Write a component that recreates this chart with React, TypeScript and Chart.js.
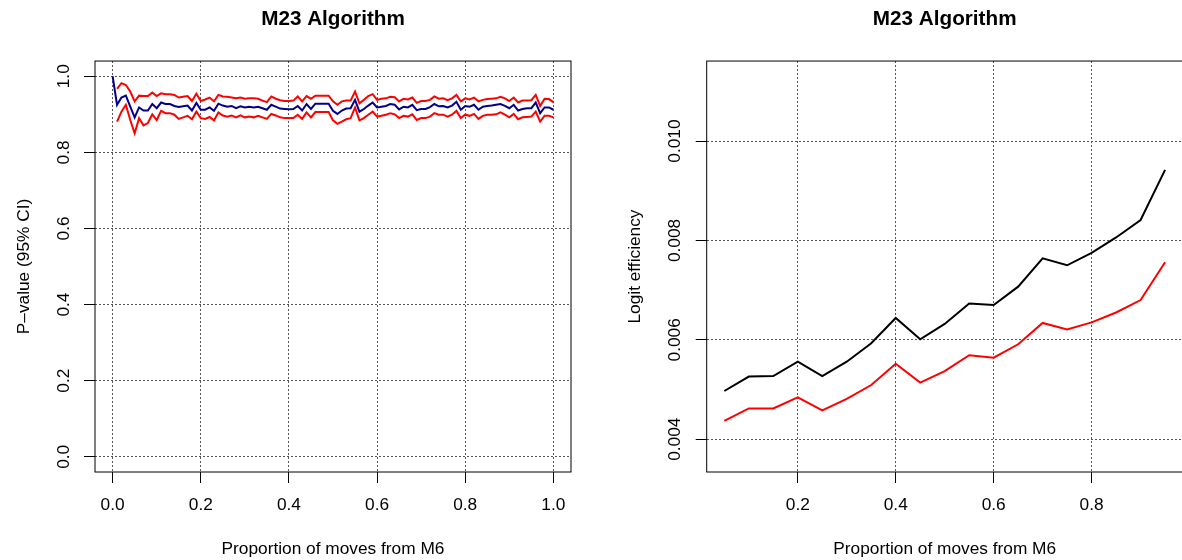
import React, { useEffect, useRef } from "react";
import { Chart, registerables } from "chart.js";

Chart.register(...registerables);

// ---------- Left panel data: P-value with 95% CI ----------
const propX: number[] = [
  0.0, 0.01, 0.02, 0.03, 0.04, 0.05, 0.06, 0.07, 0.08, 0.09,
  0.1, 0.11, 0.12, 0.13, 0.14, 0.15, 0.16, 0.17, 0.18, 0.19,
  0.2, 0.21, 0.22, 0.23, 0.24, 0.25, 0.26, 0.27, 0.28, 0.29,
  0.3, 0.31, 0.32, 0.33, 0.34, 0.35, 0.36, 0.37, 0.38, 0.39,
  0.4, 0.41, 0.42, 0.43, 0.44, 0.45, 0.46, 0.47, 0.48, 0.49,
  0.5, 0.51, 0.52, 0.53, 0.54, 0.55, 0.56, 0.57, 0.58, 0.59,
  0.6, 0.61, 0.62, 0.63, 0.64, 0.65, 0.66, 0.67, 0.68, 0.69,
  0.7, 0.71, 0.72, 0.73, 0.74, 0.75, 0.76, 0.77, 0.78, 0.79,
  0.8, 0.81, 0.82, 0.83, 0.84, 0.85, 0.86, 0.87, 0.88, 0.89,
  0.9, 0.91, 0.92, 0.93, 0.94, 0.95, 0.96, 0.97, 0.98, 0.99,
  1.0,
];

const pEstimate: number[] = [
  1.0, 0.925, 0.944, 0.949, 0.92, 0.892, 0.918, 0.91, 0.91, 0.927,
  0.916, 0.931, 0.927, 0.927, 0.922, 0.919, 0.921, 0.923, 0.91, 0.93,
  0.912, 0.912, 0.918, 0.909, 0.928, 0.923, 0.92, 0.922, 0.916, 0.921,
  0.918, 0.92, 0.918, 0.92, 0.916, 0.912, 0.925, 0.92, 0.915, 0.914,
  0.913, 0.914, 0.922, 0.91, 0.927, 0.914, 0.928, 0.928, 0.928, 0.928,
  0.909, 0.901, 0.91, 0.915, 0.916, 0.938, 0.907, 0.914, 0.923, 0.931,
  0.918, 0.92, 0.922, 0.927, 0.925, 0.913, 0.92, 0.918, 0.925, 0.911,
  0.914, 0.914, 0.919, 0.927, 0.921, 0.922, 0.918, 0.923, 0.933, 0.912,
  0.922, 0.92, 0.925, 0.912, 0.92, 0.922, 0.923, 0.925, 0.927, 0.922,
  0.916, 0.925, 0.91, 0.914, 0.916, 0.916, 0.931, 0.903, 0.918, 0.918,
  0.912,
];

const pUpper: (number | null)[] = [
  null, 0.967, 0.982, 0.977, 0.96, 0.934, 0.949, 0.948, 0.948, 0.957,
  0.948, 0.955, 0.953, 0.953, 0.951, 0.944, 0.946, 0.948, 0.935, 0.954,
  0.935, 0.939, 0.944, 0.934, 0.951, 0.947, 0.946, 0.944, 0.942, 0.944,
  0.941, 0.942, 0.942, 0.941, 0.936, 0.932, 0.947, 0.941, 0.937, 0.935,
  0.935, 0.936, 0.947, 0.934, 0.948, 0.941, 0.949, 0.949, 0.949, 0.949,
  0.934, 0.925, 0.934, 0.936, 0.936, 0.96, 0.929, 0.938, 0.948, 0.953,
  0.938, 0.941, 0.942, 0.946, 0.945, 0.934, 0.941, 0.939, 0.944, 0.93,
  0.935, 0.935, 0.938, 0.947, 0.941, 0.942, 0.937, 0.942, 0.951, 0.934,
  0.942, 0.939, 0.944, 0.934, 0.938, 0.94, 0.941, 0.942, 0.946, 0.942,
  0.935, 0.944, 0.931, 0.936, 0.936, 0.937, 0.951, 0.922, 0.941, 0.94,
  0.932,
];

const pLower: (number | null)[] = [
  null, 0.881, 0.907, 0.925, 0.885, 0.85, 0.89, 0.871, 0.877, 0.9,
  0.885, 0.909, 0.903, 0.903, 0.899, 0.888, 0.892, 0.896, 0.887, 0.907,
  0.89, 0.888, 0.893, 0.884, 0.905, 0.897, 0.894, 0.897, 0.892, 0.897,
  0.892, 0.894, 0.892, 0.896, 0.892, 0.888, 0.901, 0.897, 0.892, 0.89,
  0.89, 0.89, 0.899, 0.888, 0.905, 0.892, 0.906, 0.906, 0.906, 0.906,
  0.884, 0.875, 0.881, 0.887, 0.89, 0.918, 0.884, 0.89, 0.899, 0.907,
  0.894, 0.896, 0.899, 0.903, 0.9, 0.89, 0.896, 0.894, 0.9, 0.885,
  0.89, 0.89, 0.894, 0.903, 0.899, 0.899, 0.894, 0.899, 0.909, 0.89,
  0.899, 0.896, 0.901, 0.888, 0.896, 0.899, 0.899, 0.9, 0.905, 0.899,
  0.892, 0.901, 0.887, 0.892, 0.893, 0.894, 0.907, 0.881, 0.896, 0.896,
  0.892,
];

const leftXTicks: number[] = [0, 0.2, 0.4, 0.6, 0.8, 1.0];
const leftYTicks: number[] = [0, 0.2, 0.4, 0.6, 0.8, 1.0];

// ---------- Right panel data: logit efficiency ----------
const effX: number[] = [
  0.05, 0.1, 0.15, 0.2, 0.25, 0.3, 0.35, 0.4, 0.45, 0.5,
  0.55, 0.6, 0.65, 0.7, 0.75, 0.8, 0.85, 0.9, 0.95,
];
const effBlack: number[] = [
  0.00497, 0.00526, 0.00527, 0.00556, 0.00527, 0.00556, 0.00593, 0.00644, 0.00601, 0.00632,
  0.00673, 0.0067, 0.00707, 0.00764, 0.0075, 0.00775, 0.00806, 0.00841, 0.00942,
];
const effRed: number[] = [
  0.00437, 0.00462, 0.00462, 0.00484, 0.00458, 0.00481, 0.00509, 0.00552, 0.00514, 0.00537,
  0.00569, 0.00564, 0.00591, 0.00634, 0.00621, 0.00635, 0.00655, 0.0068, 0.00756,
];
const rightXTicks: number[] = [0.2, 0.4, 0.6, 0.8];
const rightYTicks: number[] = [0.004, 0.006, 0.008, 0.01];

const FAMILY = "'Liberation Sans', Arial, Helvetica, sans-serif";
const TEXT = 17.3;

const boxPlugin = {
  id: "rbox",
  afterDraw(chart: any) {
    const { ctx, chartArea } = chart;
    ctx.save();
    ctx.strokeStyle = "#000";
    ctx.lineWidth = 1;
    ctx.setLineDash([]);
    ctx.strokeRect(chartArea.left, chartArea.top, chartArea.right - chartArea.left, chartArea.bottom - chartArea.top);
    ctx.restore();
  },
};

function makeOptions(cfg: {
  xMin: number; xMax: number; yMin: number; yMax: number;
  xTicks: number[]; yTicks: number[]; xDigits: number; yDigits: number;
  yTitle: string; yAxisWidth: number; yTickPad: number; yTitlePad: number; padRight: number;
}) {
  const font = { family: FAMILY, size: TEXT };
  return {
    responsive: false,
    animation: false,
    events: [],
    layout: { padding: { left: 0, top: 0, bottom: 0, right: cfg.padRight } },
    plugins: {
      legend: { display: false },
      tooltip: { enabled: false },
      title: {
        display: true,
        text: "M23 Algorithm",
        fullSize: false,
        color: "#000",
        font: { family: FAMILY, size: 20.7, weight: "bold", lineHeight: 1.2 },
        padding: { top: 7.1, bottom: 29.1 },
      },
    },
    scales: {
      x: {
        type: "linear",
        min: cfg.xMin,
        max: cfg.xMax,
        afterBuildTicks: (s: any) => {
          s.ticks = cfg.xTicks.map((v) => ({ value: v }));
        },
        afterFit: (s: any) => {
          s.height = 88;
        },
        ticks: {
          autoSkip: false,
          maxRotation: 0,
          minRotation: 0,
          color: "#000",
          font,
          padding: 12,
          callback: (v: any) => Number(v).toFixed(cfg.xDigits),
        },
        grid: { color: "#555", lineWidth: 1, tickColor: "#000", tickLength: 11, tickWidth: 1 },
        border: { display: false, dash: [2, 2] },
        title: {
          display: true,
          text: "Proportion of moves from M6",
          color: "#000",
          font,
          padding: { top: 0, bottom: 0 },
        },
      },
      y: {
        type: "linear",
        min: cfg.yMin,
        max: cfg.yMax,
        afterBuildTicks: (s: any) => {
          s.ticks = cfg.yTicks.map((v) => ({ value: v }));
        },
        afterFit: (s: any) => {
          s.width = cfg.yAxisWidth;
        },
        ticks: {
          autoSkip: false,
          minRotation: 90,
          maxRotation: 90,
          crossAlign: "center",
          color: "#000",
          font,
          padding: cfg.yTickPad,
          callback: (v: any) => Number(v).toFixed(cfg.yDigits),
        },
        grid: { color: "#555", lineWidth: 1, tickColor: "#000", tickLength: 11, tickWidth: 1 },
        border: { display: false, dash: [2, 2] },
        title: {
          display: true,
          text: cfg.yTitle,
          color: "#000",
          font,
          padding: { top: cfg.yTitlePad, bottom: 0 },
        },
      },
    },
  };
}

function lineDs(xs: number[], ys: (number | null)[], color: string) {
  return {
    data: xs.map((x, i) => ({ x, y: ys[i] })),
    borderColor: color,
    backgroundColor: color,
    borderWidth: 2,
    pointRadius: 0,
    tension: 0,
    fill: false,
    spanGaps: false,
  };
}

export default function App() {
  const leftRef = useRef<HTMLCanvasElement | null>(null);
  const rightRef = useRef<HTMLCanvasElement | null>(null);

  useEffect(() => {
    const left = new Chart(leftRef.current as HTMLCanvasElement, {
      type: "line",
      data: {
        datasets: [
          lineDs(propX, pUpper, "#FF0000"),
          lineDs(propX, pLower, "#FF0000"),
          lineDs(propX, pEstimate, "#00008B"),
        ],
      },
      options: makeOptions({
        xMin: -0.04, xMax: 1.04, yMin: -0.04, yMax: 1.04,
        xTicks: leftXTicks, yTicks: leftYTicks, xDigits: 1, yDigits: 1,
        yTitle: "P\u2013value (95% CI)", yAxisWidth: 95, yTickPad: 8, yTitlePad: 13.6, padRight: 20,
      }) as any,
      plugins: [boxPlugin],
    });
    const right = new Chart(rightRef.current as HTMLCanvasElement, {
      type: "line",
      data: {
        datasets: [
          lineDs(effX, effBlack, "#000000"),
          lineDs(effX, effRed, "#FF0000"),
        ],
      },
      options: makeOptions({
        xMin: 0.014, xMax: 0.986, yMin: 0.00334, yMax: 0.01161,
        xTicks: rightXTicks, yTicks: rightYTicks, xDigits: 1, yDigits: 3,
        yTitle: "Logit efficiency", yAxisWidth: 115.7, yTickPad: -1.5, yTitlePad: 34.3, padRight: 28.3,
      }) as any,
      plugins: [boxPlugin],
    });
    return () => {
      left.destroy();
      right.destroy();
    };
  }, []);

  return (
    <div
      style={{
        position: "absolute",
        left: 0,
        top: 0,
        width: 1182,
        height: 560,
        overflow: "hidden",
        background: "#fff",
      }}
    >
      <canvas ref={leftRef} width={591} height={560} style={{ position: "absolute", left: 0, top: 0, width: 591, height: 560 }} />
      <canvas ref={rightRef} width={620} height={560} style={{ position: "absolute", left: 591, top: 0, width: 620, height: 560 }} />
    </div>
  );
}
